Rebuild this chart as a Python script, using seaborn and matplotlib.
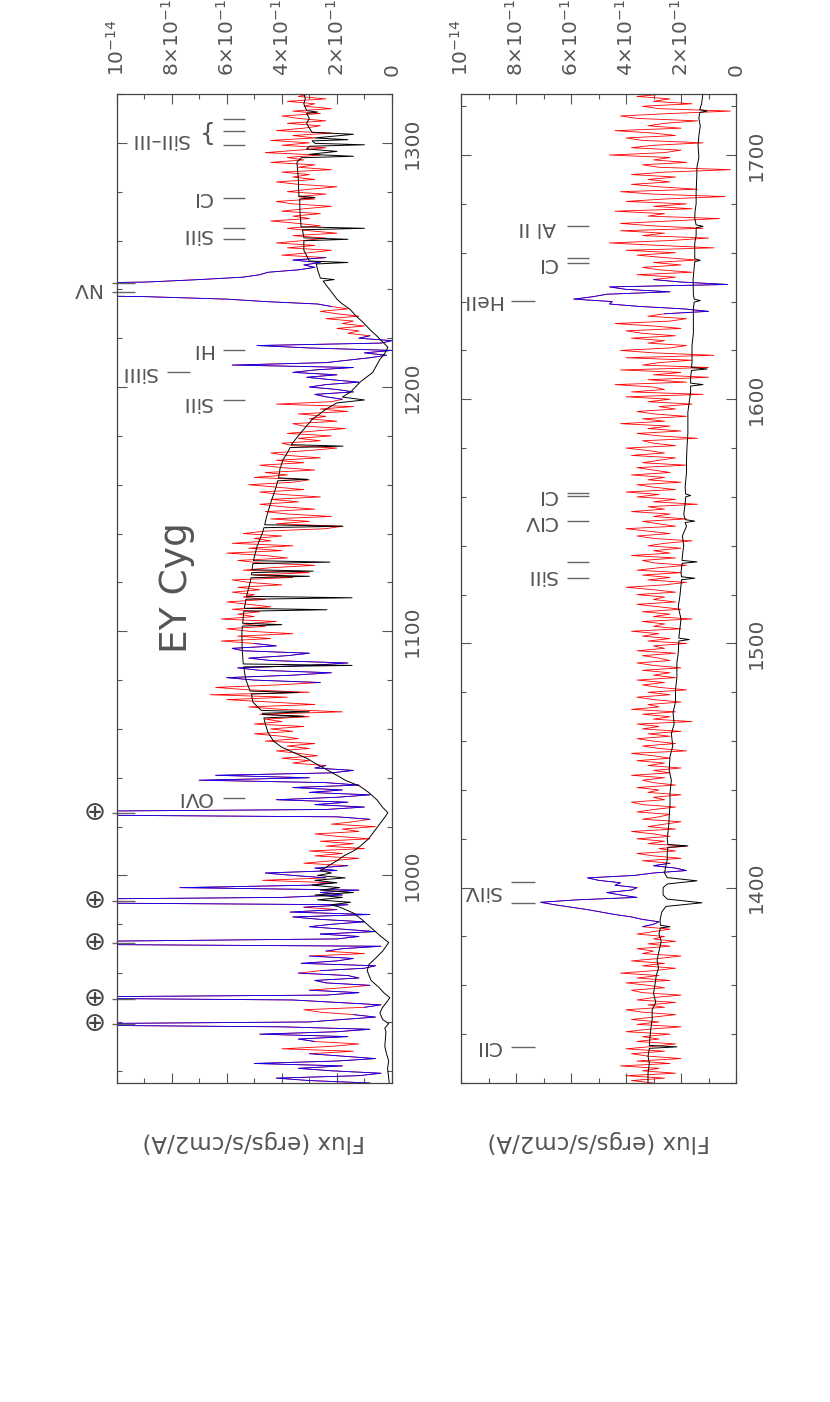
import numpy as np
import matplotlib
matplotlib.use("Agg")
import matplotlib.pyplot as plt
from matplotlib.ticker import MultipleLocator
import seaborn as sns

sns.set_style("ticks")
plt.rcParams['font.family'] = ['DejaVu Sans']
plt.rcParams['mathtext.fontset'] = 'dejavusans'

# fluxes are typed in units of 1e-15 ergs/s/cm2/A
FLUX_UNIT = 1e-15
STEP = 1.0  # observed spectrum sampling (A)

# ---- upper panel (915-1320 A) ----
obs_top_start = 915.0
obs_top_flux = [
    8, 30, 42, 12, 4, 22, 34, 18, 50, 20,
    6, 18, 30, 14, 40, 22, 12, 28, 34, 16,
    48, 20, 8, 40, 150, 30, 18, 6, 14, 26,
    32, 10, 4, 20, 36, 150, 24, 12, 30, 18,
    8, 24, 28, 12, 16, 34, 26, 10, 6, 33,
    20, 14, 30, 10, 24, 18, 4, 150, 110, 20,
    12, 26, 6, 18, 30, 22, 10, 26, 36, 8,
    37, 20, 32, 16, 150, 150, 40, 18, 26, 12,
    77, 30, 22, 47, 24, 36, 46, 20, 28, 16,
    32, 22, 12, 28, 18, 30, 10, 24, 14, 26,
    8, 20, 28, 12, 18, 6, 22, 14, 8, 20,
    150, 150, 24, 10, 28, 16, 42, 20, 8, 30,
    18, 36, 12, 24, 70, 30, 64, 22, 14, 28,
    24, 36, 30, 40, 27, 34, 42, 30, 38, 28,
    46, 34, 40, 50, 36, 44, 32, 50, 40, 46,
    30, 48, 18, 40, 52, 28, 44, 60, 38, 66,
    30, 52, 64, 42, 26, 50, 60, 36, 22, 48,
    56, 30, 16, 44, 52, 38, 30, 54, 58, 42,
    50, 62, 44, 56, 36, 52, 60, 46, 54, 42,
    62, 50, 56, 48, 58, 44, 52, 60, 46, 54,
    50, 58, 48, 56, 40, 52, 58, 36, 50, 30,
    54, 44, 28, 48, 56, 38, 46, 60, 40, 52,
    36, 58, 44, 50, 40, 54, 46, 24, 18, 42,
    30, 44, 22, 38, 46, 28, 40, 48, 34, 44,
    26, 40, 48, 32, 42, 52, 36, 30, 50, 38,
    46, 28, 40, 48, 32, 42, 26, 38, 44, 30,
    20, 36, 40, 26, 34, 22, 38, 28, 17, 32,
    36, 20, 30, 24, 34, 16, 26, 14, 42, 22,
    18, 24, 28, 14, 20, 30, 24, 12, 22, 31,
    20, 36, 28, 14, 58, 24, 16, 8, 2, 10,
    0, 30, 49, 4, 0, 12, 8, 16, 12, 20,
    10, 18, 14, 24, 12, 20, 26, 16, 22, 27,
    46, 60, 89, 150, 150, 150, 150, 150, 89, 70,
    54, 48, 45, 34, 28, 32, 26, 36, 24, 40,
    30, 22, 38, 28, 42, 32, 24, 36, 20, 30,
    38, 26, 34, 44, 30, 36, 26, 40, 32, 22,
    36, 42, 28, 34, 24, 38, 30, 20, 34, 42,
    28, 36, 30, 40, 22, 34, 28, 44, 32, 38,
    26, 46, 34, 24, 40, 30, 44, 28, 36, 22,
    42, 32, 26, 38, 24, 34, 40, 26, 36, 22,
    32, 28, 38, 24, 34, 30,
]
blue_top = [(914, 926), (933, 942), (947, 952), (956, 959), (962, 966),
            (970, 975), (977, 980), (982, 985), (988, 996), (1000, 1003),
            (1024, 1044), (1080, 1094), (1196, 1220), (1234, 1252)]
model_top = [
    (915, 1.0), (918, 1.3), (921, 1.6), (924, 1.2), (927, 2.0), (930, 2.6),
    (933, 2.4), (936, 2.2), (937.5, 2.6), (939.3, 1.2), (941, 3.4), (943.7, 4.4),
    (946, 3.4), (948, 2.0), (949.9, 0.8), (952, 3.0), (954, 4.6), (957, 7.6),
    (961, 9.0), (963.5, 8.4), (966.5, 5.6), (969, 3.4), (972.5, 1.2), (975, 4.0),
    (979, 8.0), (982, 11.0), (984.6, 14.0), (987, 19.0), (988, 22.0), (989, 15),
    (990, 27), (991, 18), (992, 28), (993, 14), (994, 26), (995, 19), (996, 29),
    (997, 20), (998, 28), (999, 17), (1000, 27), (1001, 22), (1002, 26),
    (1004, 23), (1006, 20), (1008, 17.5), (1010, 14), (1012, 11.5), (1015, 8.5),
    (1018, 6.5), (1021, 4.5), (1024, 2.5), (1025.7, 1.5), (1028, 3.5),
    (1031, 5.5), (1034, 8.5), (1036.5, 11.6), (1039, 17), (1041, 20),
    (1043.5, 24), (1046, 28), (1048, 31), (1050, 35), (1052.5, 40), (1055, 43),
    (1058.5, 45), (1062, 46), (1064.5, 46.5), (1065.2, 32), (1065.9, 46.8),
    (1066.4, 47), (1067, 30), (1067.6, 47.5), (1071, 50.5), (1074.3, 51),
    (1074.9, 34), (1075.5, 51.5), (1080, 53), (1083, 53.5), (1085.4, 53.8),
    (1086, 14.5), (1086.6, 54), (1093, 54.4), (1099.5, 54.5), (1102.1, 54.3),
    (1102.7, 40), (1103.3, 54.2), (1108.2, 53.8), (1108.8, 23.6), (1109.4, 53.6),
    (1113.1, 53), (1113.7, 14.5), (1114.3, 52.8), (1120, 51.5), (1121.9, 51.2),
    (1122.5, 30), (1123.1, 51), (1124, 50.9), (1124.6, 28.6), (1125.2, 50.8),
    (1127.7, 50.5), (1128.3, 22.5), (1128.9, 50.3), (1134.7, 49), (1140.4, 47),
    (1142.4, 46.5), (1143, 17.8), (1143.6, 46.2), (1147, 45.5), (1152.7, 44),
    (1159.3, 42), (1161.6, 41.5), (1162.2, 30.5), (1162.8, 41.2), (1166.3, 40.7),
    (1170.4, 39.5), (1173, 38), (1175.2, 37), (1175.8, 17.8), (1176.4, 36.6),
    (1181.4, 33), (1186.7, 29), (1190.9, 24), (1193.5, 20), (1194.7, 10),
    (1195.9, 18), (1198, 15), (1202, 11.6), (1206, 7), (1211.3, 4.4),
    (1214, 2.5), (1216.3, 1.5), (1218, 3.0), (1220.8, 5.4), (1223.5, 8),
    (1226.5, 10.5), (1229, 13), (1231.8, 15.2), (1234, 18), (1236, 20),
    (1239, 22), (1241.3, 23.6), (1243.4, 25), (1244, 21), (1244.6, 26),
    (1248, 27), (1250.4, 27.5), (1251, 16), (1251.6, 30), (1256, 32),
    (1259.9, 32), (1260.5, 16), (1261.1, 32), (1264.4, 32.5), (1265, 10),
    (1265.6, 33), (1271.6, 33.4), (1277, 33.5), (1277.6, 28), (1278.2, 33.8),
    (1285, 34), (1292, 34.5), (1293.9, 33), (1294.5, 14), (1295.3, 30),
    (1296.5, 20), (1297.5, 31), (1298.6, 30), (1299.2, 10), (1299.8, 28),
    (1300.8, 29), (1301.3, 16), (1302, 28), (1303.5, 14), (1304.3, 29),
    (1306, 30), (1308, 31), (1310, 30), (1312, 31), (1312.6, 27), (1313.2, 31),
    (1316, 32), (1318, 31.5), (1320.5, 32),
]

# ---- lower panel (1320-1725 A) ----
obs_bot_start = 1320.0
obs_bot_flux = [
    30, 38, 26, 40, 22, 34, 28, 42, 24, 36,
    20, 32, 38, 26, 40, 30, 22, 36, 28, 34,
    24, 40, 32, 20, 36, 28, 38, 30, 22, 34,
    40, 26, 32, 22, 36, 30, 20, 34, 38, 26,
    32, 40, 24, 36, 28, 42, 30, 22, 34, 26,
    38, 28, 20, 34, 30, 36, 24, 32, 22, 30,
    26, 36, 30, 24, 34, 30, 28, 34, 38, 44,
    49, 54, 60, 66, 71, 58, 36, 42, 47, 38,
    36, 44, 42, 50, 54, 37, 30, 18, 22, 30,
    24, 34, 20, 30, 36, 22, 28, 18, 32, 26,
    36, 24, 30, 38, 22, 32, 26, 20, 34, 28,
    24, 36, 30, 22, 34, 38, 26, 30, 20, 32,
    28, 36, 22, 30, 34, 26, 38, 24, 30, 20,
    32, 26, 36, 24, 30, 38, 18, 28, 34, 22,
    30, 36, 24, 32, 20, 34, 28, 36, 16, 30,
    24, 34, 22, 38, 28, 32, 20, 30, 36, 24,
    32, 18, 28, 34, 26, 36, 22, 30, 24, 34,
    20, 30, 36, 24, 28, 34, 22, 36, 26, 30,
    18, 32, 24, 34, 28, 38, 20, 30, 26, 34,
    16, 30, 24, 34, 20, 28, 36, 22, 30, 26,
    36, 22, 30, 40, 26, 18, 32, 24, 34, 20,
    36, 28, 18, 30, 34, 22, 38, 24, 30, 20,
    32, 26, 16, 30, 36, 24, 32, 40, 22, 28,
    34, 18, 30, 24, 38, 26, 32, 14, 30, 22,
    36, 28, 40, 22, 30, 36, 20, 32, 26, 38,
    24, 30, 36, 18, 34, 28, 22, 38, 26, 32,
    40, 22, 30, 34, 14, 28, 36, 20, 32, 24,
    42, 26, 34, 18, 30, 36, 22, 28, 16, 32,
    24, 40, 12, 38, 26, 30, 44, 18, 32, 10,
    30, 20, 42, 10, 34, 28, 16, 40, 8, 30,
    42, 24, 18, 32, 26, 38, 22, 34, 40, 20,
    30, 44, 24, 18, 32, 26, 10, 19, 35, 46,
    45, 59, 52, 47, 24, 40, 46, 3, 20, 30,
    22, 36, 16, 28, 34, 20, 30, 14, 26, 36,
    22, 40, 8, 28, 46, 24, 10, 34, 26, 42,
    12, 30, 42, 24, 6, 32, 26, 44, 16, 30,
    18, 40, 26, 4, 30, 42, 14, 28, 38, 24,
    32, 22, 38, 26, 2, 28, 34, 18, 30, 24,
    46, 26, 20, 38, 30, 12, 34, 40, 22, 30,
    44, 20, 32, 26, 14, 36, 42, 24, 2, 28,
    34, 16, 30, 24, 36, 26,
]
blue_bot = [(1385, 1409), (1636, 1648)]
model_bot = [
    (1319.5, 32), (1324, 32), (1328, 31.5), (1331, 32), (1334.2, 31.5),
    (1334.8, 21.5), (1335.4, 31.5), (1338.7, 31.3), (1342, 31), (1346, 30.5),
    (1350, 30.5), (1353, 29.2), (1356.8, 30), (1360, 29.5), (1364, 29),
    (1367, 28.2), (1370.3, 28.7), (1374, 28), (1378, 27.2), (1381, 28),
    (1383.5, 27.5), (1384, 24), (1384.6, 27.5), (1386.8, 27.6), (1390, 27),
    (1392.3, 25.5), (1393.8, 12.4), (1395.3, 25), (1397, 26.5), (1400, 26.5),
    (1401.5, 25), (1402.8, 14.2), (1404.1, 25), (1406, 26), (1409, 25.5),
    (1411.4, 25), (1414, 25), (1416.5, 24.8), (1417.1, 17.5), (1417.7, 24.8),
    (1420, 25), (1425, 24.5), (1430, 24.2), (1434, 24), (1438.9, 24),
    (1444, 23.5), (1448, 24.3), (1453.7, 24), (1458, 23), (1463, 23.5),
    (1467, 22.5), (1471.7, 22.9), (1476, 22), (1481, 22), (1486, 21.5),
    (1492.2, 21.5), (1496, 21), (1501, 20.8), (1501.6, 17), (1502.2, 20.8),
    (1505, 20.5), (1510, 20), (1515, 21), (1519.4, 20.4), (1524, 20),
    (1526.1, 19.8), (1526.7, 15), (1527.3, 19.8), (1529, 20), (1532.8, 19.6),
    (1533.4, 14.2), (1534, 19.6), (1536, 19.5), (1540, 19), (1544, 19.5),
    (1548, 18), (1549.5, 18.5), (1550.1, 15), (1550.7, 18.5), (1553, 19),
    (1557, 18.5), (1560, 18.3), (1560.6, 16.5), (1561.2, 18.3), (1564, 18.5),
    (1570, 18), (1575, 18), (1581, 17.8), (1586, 17.5), (1590, 17.5),
    (1594.8, 17.5), (1599, 17), (1603, 16.5), (1605.4, 16.5), (1606, 12),
    (1606.6, 16.5), (1609, 16.5), (1611.8, 16.2), (1612.4, 10.5), (1613, 16.2),
    (1615, 16), (1621.9, 16), (1627, 15.5), (1632, 15.5), (1637, 15.5),
    (1639.8, 15.2), (1640.4, 13), (1641, 15.2), (1643, 15.5), (1649.3, 15.6),
    (1653, 15.3), (1656.3, 15), (1656.9, 13), (1657.5, 15), (1660, 15),
    (1664, 15), (1667, 14.5), (1670.2, 14.5), (1670.8, 12), (1671.4, 14.5),
    (1674, 15), (1676.8, 14.9), (1680, 14.5), (1685, 14.5), (1690, 14.3),
    (1695, 14.2), (1699, 13.5), (1703.9, 13.8), (1708, 13.5), (1712, 13),
    (1715, 13.5), (1717.4, 13.2), (1718, 10.5), (1718.6, 13.2), (1721, 12.5),
    (1725.5, 12),
]

# ---- line identifications ----
top_marks_near = [1309.7, 1305.0, 1299.2, 1277.6, 1265.0, 1260.5, 1215.2, 1194.7, 1031.9]
top_marks_far = [1206.0]
top_marks_edge = [1242.8, 1238.8, 1025.7, 989.5, 972.4, 949.5, 939.0]
top_labels = ['CI', 'SiII', 'HI', 'SiII', 'OVI', 'SiIII', 'NV']
top_label_wave = [1277.6, 1262.6, 1215.2, 1193.8, 1031.9, 1206.0, 1240.5]
top_label_pos = ['near', 'near', 'near', 'near', 'near', 'far', 'edge']
earth_wave = [1025.7, 989.5, 972.4, 949.5, 939.0]

bot_marks_near = [1670.8, 1657.7, 1655.8, 1561.8, 1560.4, 1550.1, 1533.5, 1526.9]
bot_marks_far = [1640.4, 1402.5, 1393.6, 1334.8]
bot_labels = ['Al II', 'CI', 'HeII', 'CI', 'CIV', 'SiII', 'SiIV', 'CII']
bot_label_wave = [1670.5, 1655.5, 1640.5, 1560.5, 1550.1, 1528.0, 1398.4, 1334.8]
bot_label_pos = ['near', 'near', 'far', 'near', 'near', 'near', 'far', 'far']

flux_ticks = [0, 2e-14, 4e-14, 6e-14, 8e-14, 1e-13]
flux_ticklabels = ['0', r'2$\times$10$^{-14}$', r'4$\times$10$^{-14}$',
                   r'6$\times$10$^{-14}$', r'8$\times$10$^{-14}$', r'10$^{-14}$']

MARK_SPAN = {'near': (53.4, 61.3), 'far': (73.2, 81.7), 'edge': (93.3, 101.6)}
LABEL_AT = {'near': 65.3, 'far': 85.5, 'edge': 106.0}
GREY = '#555555'
FS = 14.5


def draw_panel(ax, start, obs, blue, model, ylim):
    obs = np.asarray(obs, float) * FLUX_UNIT
    wave = start + STEP * np.arange(len(obs))
    sns.lineplot(x=obs, y=wave, sort=False, estimator=None, color='#ff0000', lw=0.6, ax=ax)
    for a, b in blue:
        idx = np.where((wave >= a) & (wave <= b))[0]
        lo, hi = max(idx[0] - 1, 0), min(idx[-1] + 2, len(wave))
        sns.lineplot(x=obs[lo:hi], y=wave[lo:hi], sort=False, estimator=None,
                     color='#0000ff', lw=0.6, ax=ax)
    mw = np.array([m[0] for m in model])
    mf = np.array([m[1] for m in model]) * FLUX_UNIT
    sns.lineplot(x=mf, y=mw, sort=False, estimator=None, color='black', lw=0.7, ax=ax)

    ax.set_xlim(1e-13, 0)
    ax.set_ylim(*ylim)
    ax.set_xlabel('')
    ax.set_ylabel('')
    ax.set_xticks(flux_ticks)
    ax.set_xticklabels(flux_ticklabels)
    ax.xaxis.set_minor_locator(MultipleLocator(1e-14))
    ax.yaxis.set_major_locator(MultipleLocator(100))
    ax.yaxis.set_minor_locator(MultipleLocator(20))
    ax.tick_params(axis='both', which='both', direction='in', top=True, bottom=True,
                   left=True, right=True, color='#555555', labelcolor=GREY, width=0.8)
    ax.tick_params(which='major', length=7.2)
    ax.tick_params(which='minor', length=3.6)
    ax.tick_params(axis='x', labeltop=True, labelbottom=False, labelrotation=90,
                   pad=13, labelsize=FS)
    ax.tick_params(axis='y', labelleft=False, labelright=True, labelrotation=90,
                   pad=8, labelsize=FS)
    for lab in ax.get_yticklabels():
        lab.set_va('center')
    for sp in ax.spines.values():
        sp.set_color('#444444')
        sp.set_linewidth(0.9)


def draw_marks(ax, waves, pos):
    f0, f1 = MARK_SPAN[pos]
    for w in waves:
        ax.plot([f0 * FLUX_UNIT, f1 * FLUX_UNIT], [w, w], color='#666666', lw=1.0,
                clip_on=False, solid_capstyle='butt')


def draw_labels(ax, labels, waves, pos):
    for s, w, p in zip(labels, waves, pos):
        ax.text(LABEL_AT[p] * FLUX_UNIT, w, s, rotation=180, rotation_mode='anchor',
                ha='left', va='center', fontsize=FS, color=GREY, clip_on=False)


fig = plt.figure(figsize=(8.3, 14.02), dpi=100)
ax_top = fig.add_axes([116.5 / 830, 1 - 1083 / 1402, 275.5 / 830, 989 / 1402])
ax_bot = fig.add_axes([461 / 830, 1 - 1083 / 1402, 275 / 830, 989 / 1402])

draw_panel(ax_top, obs_top_start, obs_top_flux, blue_top, model_top, (915, 1320))
draw_panel(ax_bot, obs_bot_start, obs_bot_flux, blue_bot, model_bot, (1320, 1725))

for p, w in [('near', top_marks_near), ('far', top_marks_far), ('edge', top_marks_edge)]:
    draw_marks(ax_top, w, p)
for p, w in [('near', bot_marks_near), ('far', bot_marks_far)]:
    draw_marks(ax_bot, w, p)
draw_labels(ax_top, top_labels, top_label_wave, top_label_pos)
draw_labels(ax_bot, bot_labels, bot_label_wave, bot_label_pos)

# SiII-III group with brace
ax_top.text(74 * FLUX_UNIT, 1301.5, 'SiII\u2013III', rotation=180, rotation_mode='anchor',
            ha='left', va='center', fontsize=FS, color=GREY, clip_on=False)
ax_top.text(67 * FLUX_UNIT, 1303.5, '{', ha='center', va='center', fontsize=18,
            color=GREY, clip_on=False)

for w in earth_wave:
    ax_top.text(107.8 * FLUX_UNIT, w, '\u2295', ha='center', va='center',
                fontsize=19, color='#444444', clip_on=False)

ax_top.text(0.256, 0.4348, 'EY Cyg', transform=ax_top.transAxes, rotation=90,
            rotation_mode='anchor', ha='left', va='baseline', fontsize=27, color=GREY)

for xc in (254 / 830, 599 / 830):
    fig.text(xc, 1 - 1141 / 1402, 'Flux (ergs/s/cm2/A)', rotation=180,
             ha='center', va='center', fontsize=16.5, color=GREY)

fig.savefig('out.png', dpi=100)
